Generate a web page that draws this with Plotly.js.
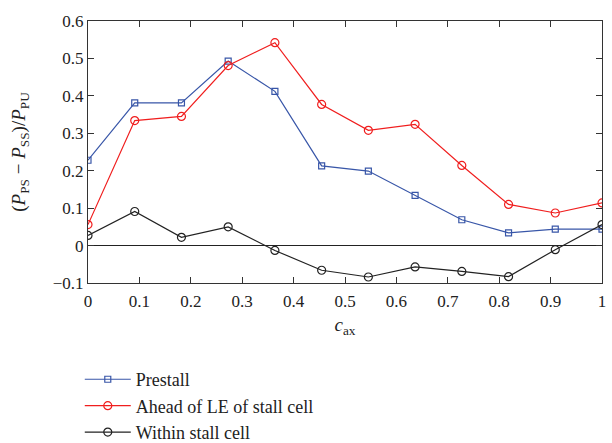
<!DOCTYPE html>
<html>
<head>
<meta charset="utf-8">
<script src="https://cdn.plot.ly/plotly-3.0.1.min.js"></script>
<style>html,body{margin:0;padding:0;background:#fff;}#chart{width:612px;height:443px;}</style>
</head>
<body>
<div id="chart"></div>
<script>
var cax = [0, 1/11, 2/11, 3/11, 4/11, 5/11, 6/11, 7/11, 8/11, 9/11, 10/11, 1];
var prestall = [0.228, 0.381, 0.381, 0.493, 0.412, 0.213, 0.199, 0.134, 0.069, 0.034, 0.044, 0.044];
var aheadLE = [0.056, 0.334, 0.345, 0.481, 0.542, 0.377, 0.308, 0.324, 0.214, 0.110, 0.087, 0.114];
var withinCell = [0.027, 0.091, 0.022, 0.050, -0.013, -0.066, -0.084, -0.057, -0.069, -0.083, -0.011, 0.056];
var seriesNames = ["Prestall", "Ahead of LE of stall cell", "Within stall cell"];
var xTicks = [0, 0.1, 0.2, 0.3, 0.4, 0.5, 0.6, 0.7, 0.8, 0.9, 1];
var xTickText = ["0", "0.1", "0.2", "0.3", "0.4", "0.5", "0.6", "0.7", "0.8", "0.9", "1"];
var yTicks = [-0.1, 0, 0.1, 0.2, 0.3, 0.4, 0.5, 0.6];
var yTickText = ["\u22120.1", "0", "0.1", "0.2", "0.3", "0.4", "0.5", "0.6"];

var font = "'Liberation Serif', serif";
var traces = [
  {x: cax, y: prestall, name: seriesNames[0], mode: "lines+markers",
   line: {color: "#3856a8", width: 1.2},
   marker: {symbol: "square-open", size: 6, color: "#3856a8", line: {width: 1.2}}},
  {x: cax, y: aheadLE, name: seriesNames[1], mode: "lines+markers",
   line: {color: "#f01e1e", width: 1.2},
   marker: {symbol: "circle-open", size: 8, color: "#f01e1e", line: {width: 1.2}}},
  {x: cax, y: withinCell, name: seriesNames[2], mode: "lines+markers",
   line: {color: "#222222", width: 1.2},
   marker: {symbol: "circle-open", size: 8, color: "#222222", line: {width: 1.2}}}
];

var layout = {
  width: 612, height: 443,
  margin: {l: 88, r: 10, t: 21, b: 160, autoexpand: false},
  paper_bgcolor: "#fff", plot_bgcolor: "#fff",
  font: {family: font, size: 17, color: "#222"},
  showlegend: true,
  legend: {x: -0.016, xanchor: "left", y: 0.185, yref: "container", yanchor: "top", orientation: "v",
    font: {family: font, size: 18, color: "#222"}, itemwidth: 46,
    tracegroupgap: 0, bgcolor: "rgba(0,0,0,0)"},
  xaxis: {range: [0, 1], tickvals: xTicks, ticktext: xTickText,
    ticks: "inside", ticklen: 6, tickcolor: "#333", mirror: "ticks",
    showline: true, linecolor: "#333", linewidth: 1, showgrid: false, zeroline: false,
    ticklabelstandoff: 3,
    tickfont: {family: font, size: 17, color: "#222"},
    title: {text: "<i>c</i><sub>ax</sub>", font: {family: font, size: 19, color: "#222"}, standoff: 7}},
  yaxis: {range: [-0.1, 0.6], tickvals: yTicks, ticktext: yTickText,
    ticks: "inside", ticklen: 6, tickcolor: "#333", mirror: "ticks",
    showline: true, linecolor: "#333", linewidth: 1, showgrid: false,
    zeroline: true, zerolinecolor: "#222", zerolinewidth: 1,
    tickfont: {family: font, size: 17, color: "#222"},
    title: {text: "(<i>P</i><sub>PS</sub> \u2212 <i>P</i><sub>SS</sub>)/<i>P</i><sub>PU</sub>",
      font: {family: font, size: 19, color: "#222"}, standoff: 22}}
};

Plotly.newPlot("chart", traces, layout, {displayModeBar: false, staticPlot: true});
</script>
</body>
</html>
